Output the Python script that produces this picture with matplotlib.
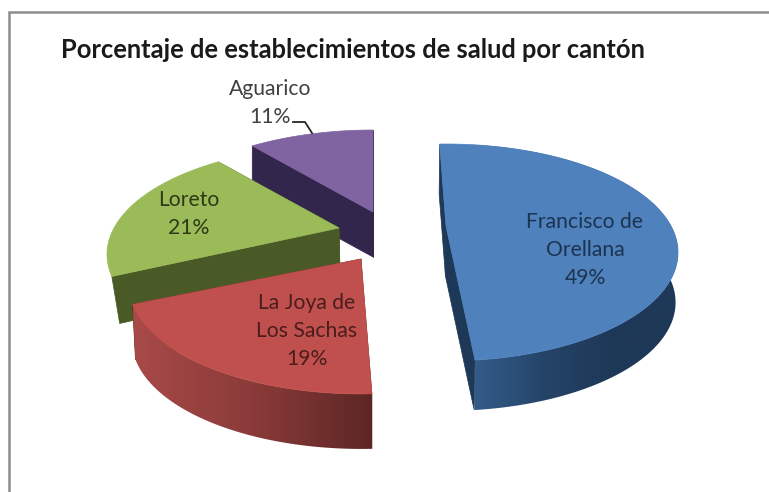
#!/usr/bin/env python
import matplotlib
matplotlib.use('Agg')
import matplotlib.pyplot as plt
import numpy as np
from matplotlib.colors import LinearSegmentedColormap
from matplotlib.patches import Polygon

W, H = 769, 492

title = 'Porcentaje de establecimientos de salud por cantón'
names = ['Francisco de\nOrellana', 'La Joya de\nLos Sachas', 'Loreto', 'Aguarico']
shares = [49, 19, 21, 11]

# Look of each slice, drawn back to front at the end.
apex_x = [446, 361, 339, 373]
apex_y = [226, 259, 228, 212]
turn = [-2, 1.5, 0, 0]
depth = [50, 55, 47, 45]
lean = [0.008, 0.012, 0.03, 0.0]
top_colors = ['#4F81BD', '#C0504D', '#9BBB59', '#8064A2']
face_colors = ['#1E3857', '#5C2625', '#4A5A27', '#33264D']
wall_colors = [['#335C8A', '#254568', '#1E3857', '#1E3857'],
               ['#A84A48', '#8A3B39', '#5C2625'],
               None, None]
text_colors = ['#1C3350', '#4A1D1C', '#2E3816', '#404040']
label_x = [585, 307, 189, 270]
label_y = [250, 331, 214, 103]

# Perspective of the pie plane.
RX = 225
RY = 102
PERSP = 0.244
VANISH_X = 374


def project(t_deg):
    t = np.radians(t_deg)
    x, y = np.sin(t), np.cos(t)
    den = 1 + PERSP * y
    return RX * x / den, -RY * y / den


def drop(x, y, d, k):
    # where a point of the top face lands on the bottom face
    return x + (VANISH_X - x) * k, y + d


fig = plt.figure(figsize=(W / 100, H / 100), dpi=100)
ax = fig.add_axes([0, 0, 1, 1])
ax.axis('off')

# Only the top and left edges of the frame are in the screenshot.
ax.plot([9, 9, W], [H, 12, 12], color='#8C8C8C', lw=1.8, solid_joinstyle='miter')

ax.text(61, 50, title, fontsize=18.4, fontweight='bold', family='Lato',
        color='#1A1A1A', va='center', ha='left')

starts = np.cumsum([0] + shares[:-1]) * 3.6
for i in [3, 2, 1, 0]:
    t0 = starts[i] + turn[i]
    t1 = t0 + shares[i] * 3.6
    ts = np.linspace(t0, t1, 121)
    px, py = project(ts)
    px = px + apex_x[i]
    py = py + apex_y[i]
    qx, qy = drop(px, py, depth[i], lean[i])
    ox, oy = drop(apex_x[i], apex_y[i], depth[i], lean[i])

    # Cut faces towards the centre of the pie.
    for e in [0, -1]:
        pts = [(apex_x[i], apex_y[i]), (px[e], py[e]), (qx[e], qy[e]), (ox, oy)]
        ax.add_patch(Polygon(pts, closed=True, fc=face_colors[i], ec=face_colors[i], lw=0.5))

    # Rounded outer wall, shaded from left to right.
    if wall_colors[i] is not None:
        wall = Polygon(np.column_stack([np.r_[px, qx[::-1]], np.r_[py, qy[::-1]]]),
                       closed=True, fc='none', ec='none')
        ax.add_patch(wall)
        x0, x1 = np.r_[px, qx].min(), np.r_[px, qx].max()
        if i == 0:
            x0 = px[-1]
        y0, y1 = np.r_[py, qy].min(), np.r_[py, qy].max()
        cmap = LinearSegmentedColormap.from_list('wall', wall_colors[i])
        im = ax.imshow(np.linspace(0, 1, 256)[None, :], cmap=cmap, aspect='auto',
                       extent=(x0, x1, y1, y0), interpolation='bilinear', zorder=1)
        im.set_clip_path(wall)

    ax.add_patch(Polygon(np.column_stack([np.r_[apex_x[i], px], np.r_[apex_y[i], py]]),
                         closed=True, fc=top_colors[i], ec=top_colors[i], lw=0.5, zorder=1))

    ax.text(label_x[i], label_y[i], '%s\n%d%%' % (names[i], shares[i]), fontsize=15.2,
            family='Lato', color=text_colors[i], ha='center', va='center',
            linespacing=1.5, zorder=5)

# Leader line of the smallest slice.
ax.plot([293, 305, 312], [122, 122, 133], color='#262626', lw=1.3, zorder=4)

ax.set_xlim(0, W)
ax.set_ylim(H, 0)
fig.savefig('out.png', dpi=100, facecolor='white')
